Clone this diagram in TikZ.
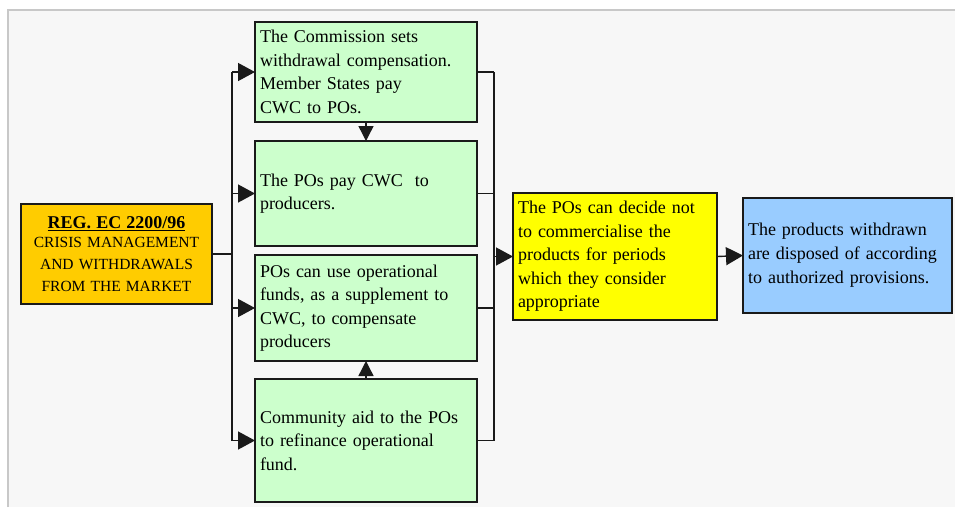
\documentclass[tikz,border=0pt]{standalone}
\usepackage{fontspec}
\setmainfont{Liberation Serif}
\usetikzlibrary{arrows.meta}
\definecolor{panel}{HTML}{F7F7F7}
\definecolor{panelline}{HTML}{C8C8C8}
\definecolor{boxline}{HTML}{1A1A1A}
\definecolor{greenfill}{HTML}{CCFFCC}
\definecolor{orangefill}{HTML}{FFCC00}
\definecolor{yellowfill}{HTML}{FFFF00}
\definecolor{bluefill}{HTML}{99CCFF}
\begin{document}
\begin{tikzpicture}[x=1pt,y=-1pt,
  box/.style={draw=boxline, line width=1.3pt, inner xsep=5pt, inner ysep=0pt,
    outer sep=0pt, align=left, anchor=center, font=\fontsize{18}{23.5}\selectfont},
  conn/.style={line width=1.4pt, draw=boxline},
  arr/.style={conn, -{Triangle[length=17pt,width=18pt]}},
  sarr/.style={conn, -{Triangle[length=15pt,width=15pt]}}
]
\useasboundingbox (0,0) rectangle (955,507);
\fill[panel] (8,10) rectangle (955,507);
\draw[panelline, line width=1.5pt] (8,507) -- (8,10) -- (955,10);

\node[box, fill=orangefill, align=center, text width=181pt, minimum height=100pt,
  font=\fontsize{15.5}{21.7}\selectfont] (reg) at (116.5,254)
  {{\fontsize{18}{21.7}\selectfont\bfseries\underline{REG. EC 2200/96}}\\[-2.7pt]
   CRISIS MANAGEMENT\\AND WITHDRAWALS\\FROM THE MARKET};

\node[box, fill=greenfill, text width=212pt, minimum height=100pt] (b1) at (366,72)
  {The Commission sets\\withdrawal compensation.\\Member States pay\\CWC to POs.};
\node[box, fill=greenfill, text width=212pt, minimum height=105pt] (b2) at (366,193.5)
  {The POs pay CWC~ to\\producers.};
\node[box, fill=greenfill, text width=212pt, minimum height=106pt] (b3) at (366,308)
  {POs can use operational\\funds, as a supplement to\\CWC, to compensate\\producers};
\node[box, fill=greenfill, text width=212pt, minimum height=123pt] (b4) at (366,440.5)
  {Community aid to the POs\\to refinance operational\\fund.};

\node[box, fill=yellowfill, text width=194pt, minimum height=127pt] (yel) at (615,256.5)
  {The POs can decide not\\to commercialise the\\products for periods\\which they consider\\appropriate};
\node[box, fill=bluefill, text width=199pt, minimum height=115pt,
  font=\fontsize{18}{24}\selectfont] (blue) at (847.5,255.5)
  {The products withdrawn\\are disposed of according\\to authorized provisions.};

\coordinate (lbus) at (232,0);
\coordinate (rbus) at (494,0);

% left distribution bus
\draw[conn] (reg.east) -- (reg.east -| lbus);
\draw[conn] (lbus |- b1.west) -- (lbus |- b4.west);
\draw[arr] (lbus |- b1.west) -- (b1.west);
\draw[arr] (lbus |- b2.west) -- (b2.west);
\draw[arr] (lbus |- b3.west) -- (b3.west);
\draw[arr] (lbus |- b4.west) -- (b4.west);

% links between green boxes
\draw[sarr] (b1.south) -- (b2.north);
\draw[sarr] (b4.north) -- (b3.south);

% right collecting bus
\draw[conn] (b1.east) -- (rbus |- b1.east);
\draw[conn] (b2.east) -- (rbus |- b2.east);
\draw[conn] (b3.east) -- (rbus |- b3.east);
\draw[conn] (b4.east) -- (rbus |- b4.east);
\draw[conn] (rbus |- b1.east) -- (rbus |- b4.east);
\draw[arr] (rbus |- yel.west) -- (yel.west);

\draw[arr] (yel.east) -- (blue.west);
\end{tikzpicture}
\end{document}
